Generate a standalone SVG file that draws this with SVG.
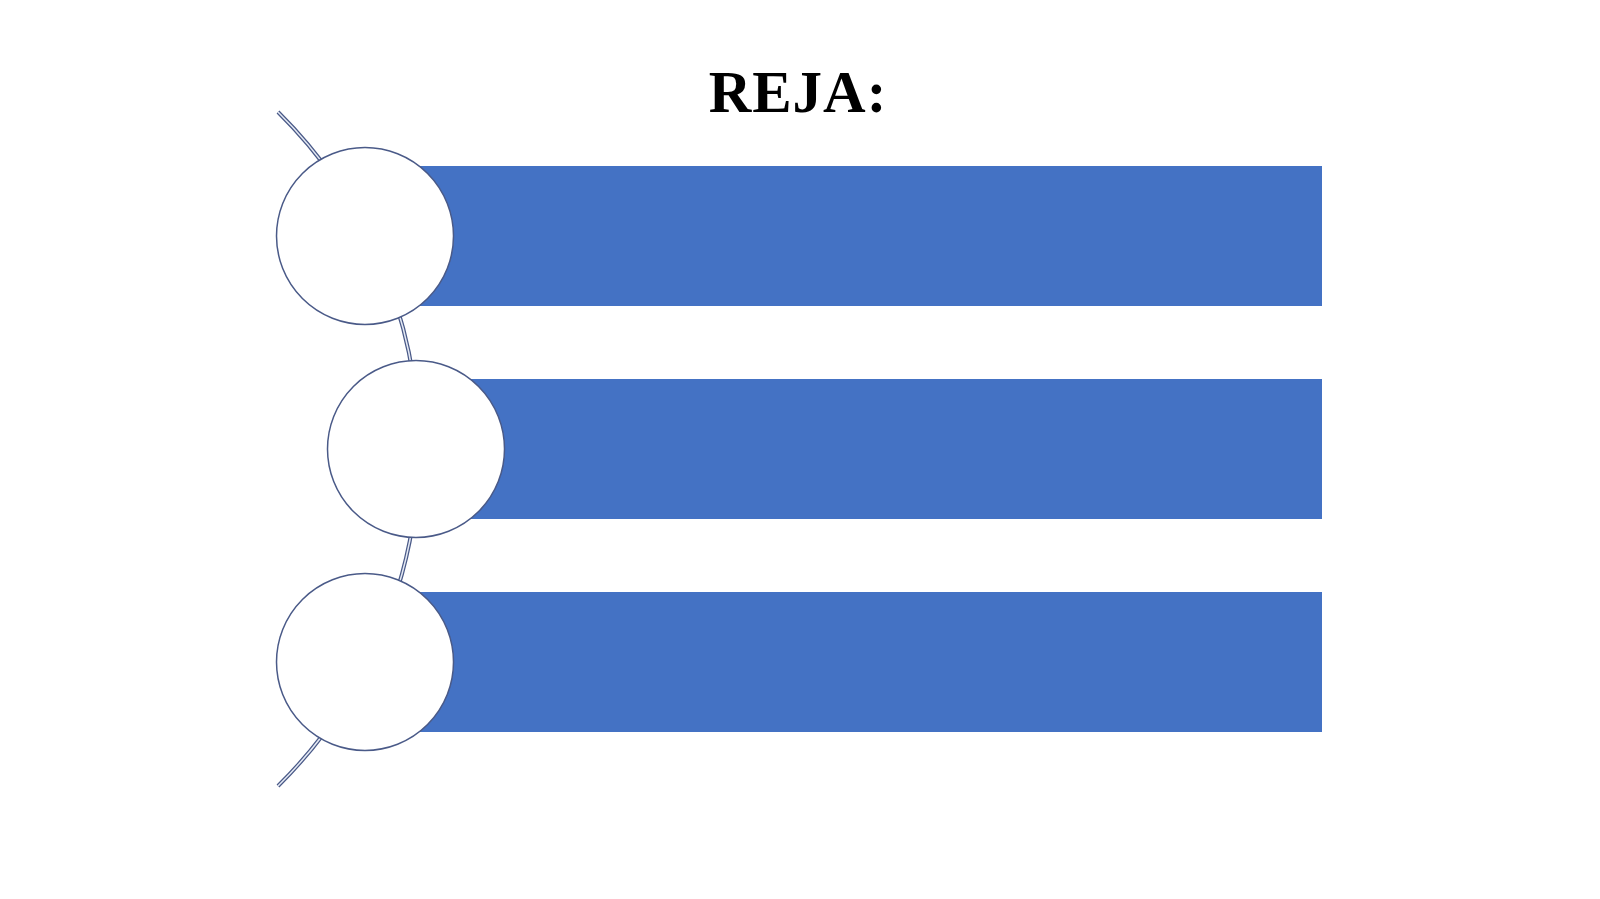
<svg xmlns="http://www.w3.org/2000/svg" width="1600" height="899" viewBox="0 0 1600 899">
  <style>
    .bar { fill: #4472C4; }
    .node { fill: #FFFFFF; stroke: #4A5A88; stroke-width: 1.5; }
    .arc-outer { fill: none; stroke: #4A5A88; stroke-width: 4; }
    .arc-inner { fill: none; stroke: #E4E9F4; stroke-width: 1.5; }
    .title { font-family: "Liberation Serif", "Times New Roman", serif; font-weight: bold; font-size: 59px; fill: #000000; font-kerning: none; letter-spacing: 1px; }
  </style>
  <rect x="0" y="0" width="1600" height="899" fill="#FFFFFF"/>
  <text class="title" x="798" y="112" text-anchor="middle">REJA:</text>
  <g id="connectors">
    <path class="arc-outer" d="M 278 112 A 474 474 0 0 1 278 786"/>
    <path class="arc-inner" d="M 278 112 A 474 474 0 0 1 278 786"/>
  </g>
  <g id="node1">
    <rect class="bar" x="365" y="166" width="957" height="140"/>
    <circle class="node" cx="365" cy="236" r="88.5"/>
  </g>
  <g id="node2">
    <rect class="bar" x="416" y="379" width="906" height="140"/>
    <circle class="node" cx="416" cy="449" r="88.5"/>
  </g>
  <g id="node3">
    <rect class="bar" x="365" y="592" width="957" height="140"/>
    <circle class="node" cx="365" cy="662" r="88.5"/>
  </g>
</svg>
